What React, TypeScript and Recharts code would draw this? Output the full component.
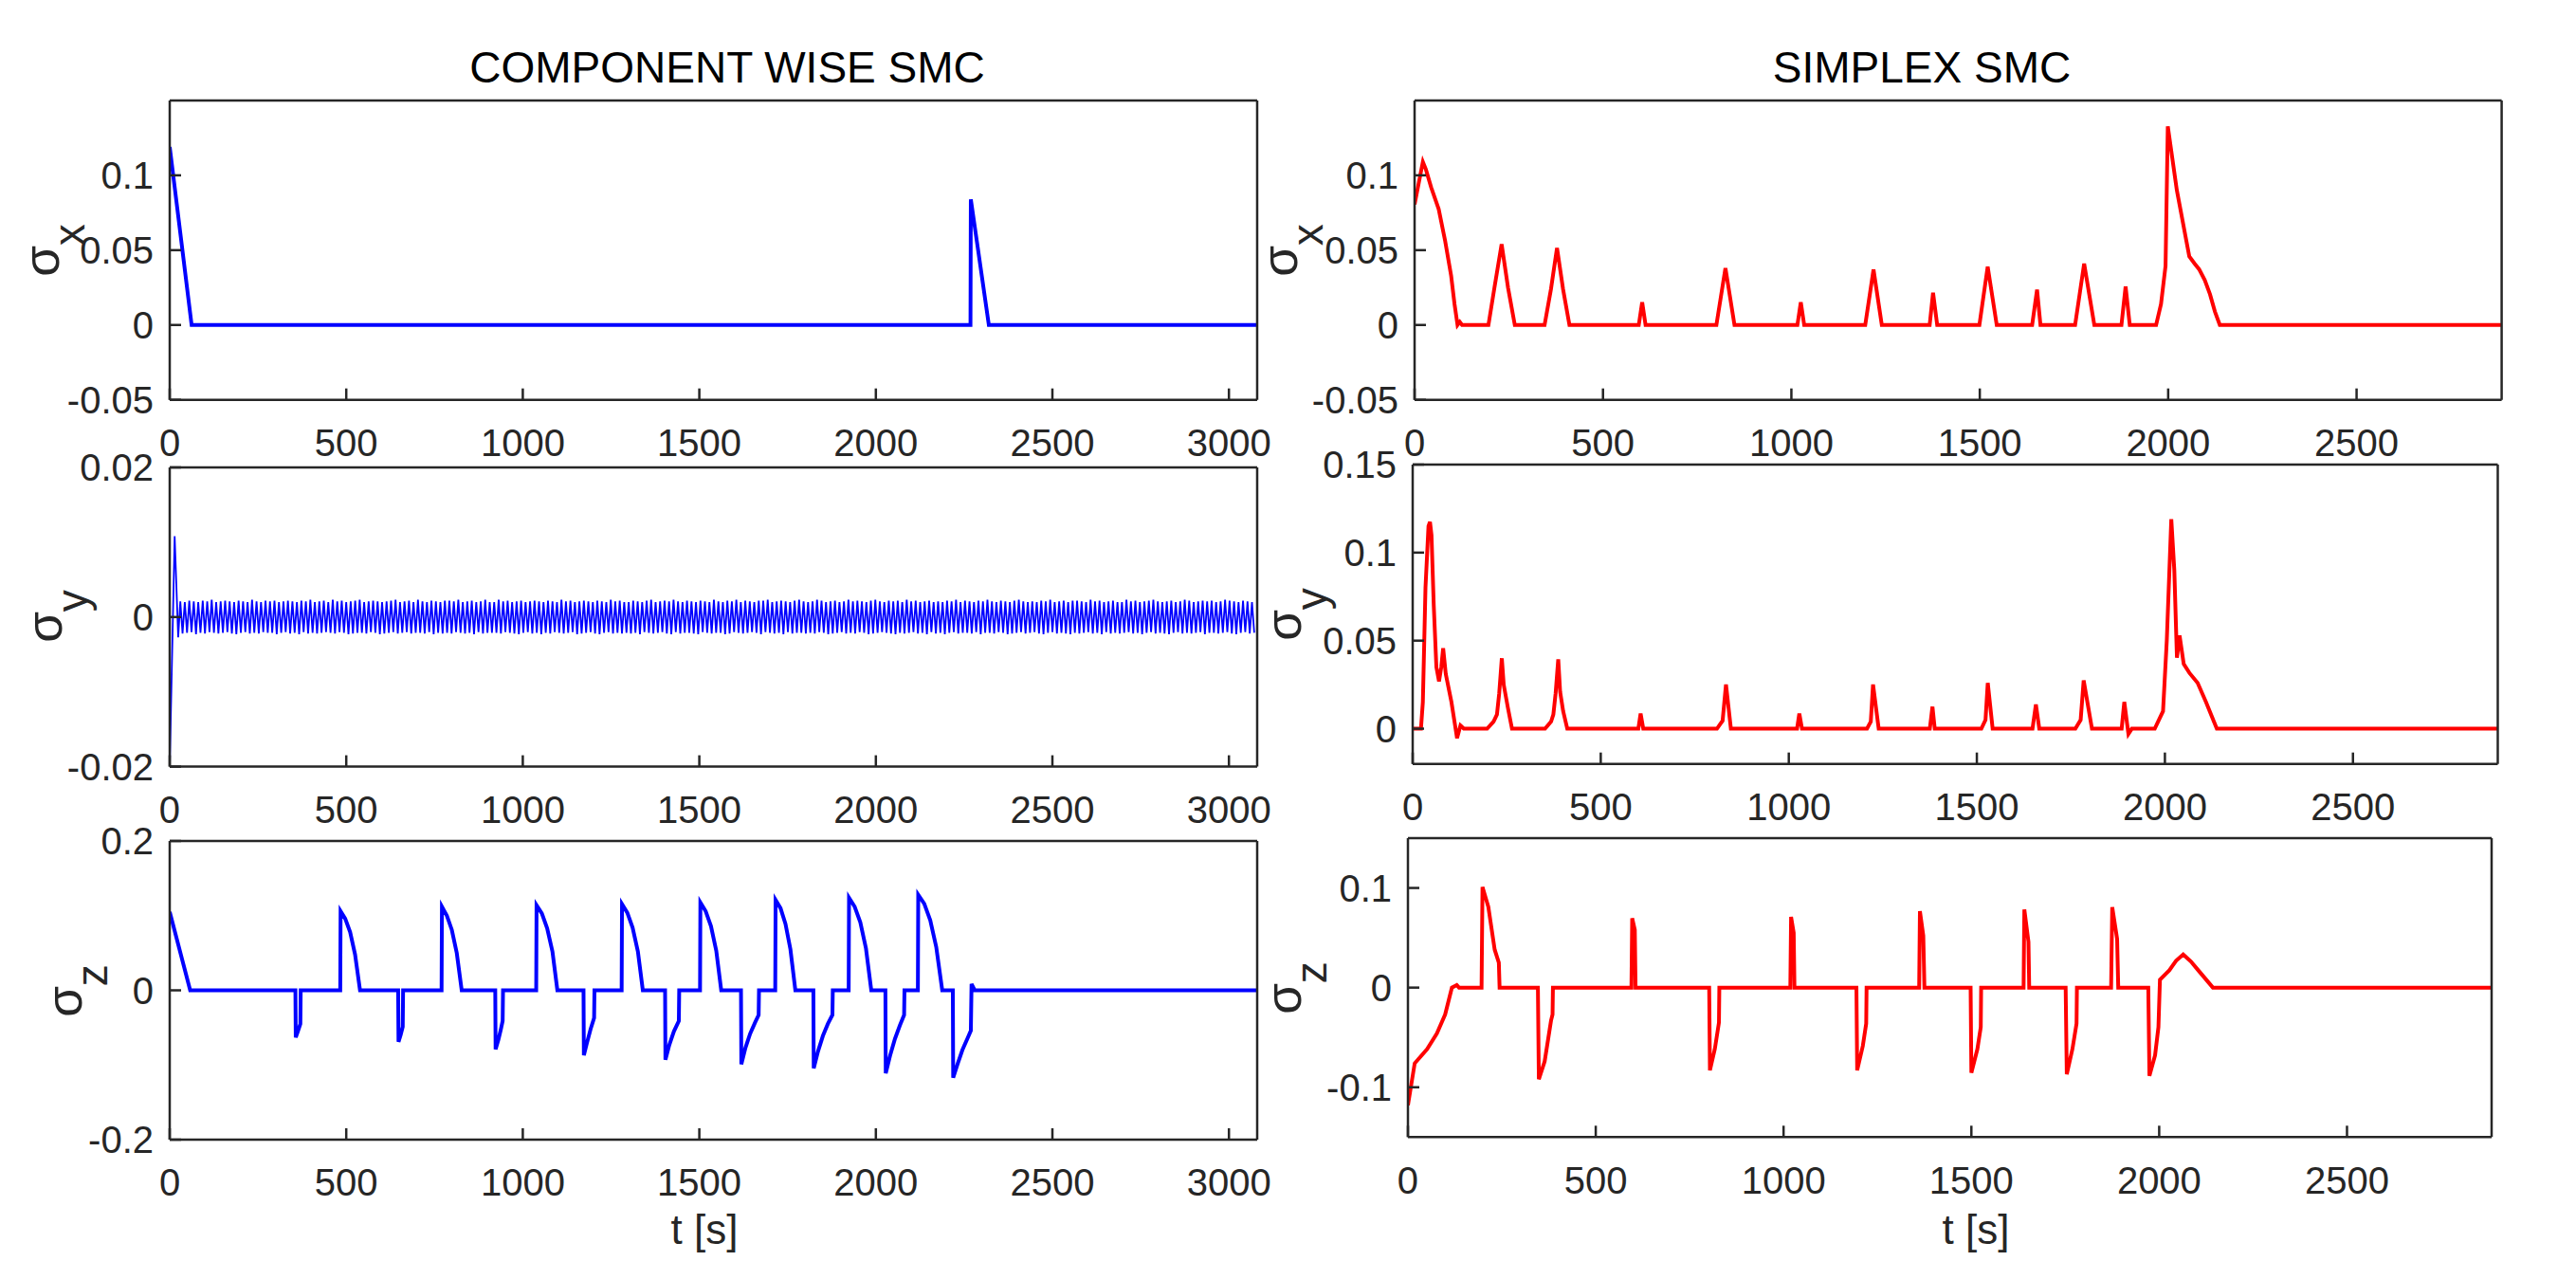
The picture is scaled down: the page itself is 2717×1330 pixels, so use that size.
import React from "react";
import { LineChart, Line, XAxis, YAxis } from "recharts";

const FONT = '"Liberation Sans", Arial, Helvetica, sans-serif';
const AXIS = "#262626";
const BLUE = "#0000ff";
const RED = "#ff0000";

// time axes
const CW_T_MAX = 3080;
const SX_T_MAX = 2885;
const CW_T_TICKS = [0, 500, 1000, 1500, 2000, 2500, 3000];
const SX_T_TICKS = [0, 500, 1000, 1500, 2000, 2500];

// y axes
const CW_X_DOMAIN = [-0.05, 0.15];
const CW_X_TICKS = [-0.05, 0, 0.05, 0.1];
const CW_Y_DOMAIN = [-0.02, 0.02];
const CW_Y_TICKS = [-0.02, 0, 0.02];
const CW_Z_DOMAIN = [-0.2, 0.2];
const CW_Z_TICKS = [-0.2, 0, 0.2];
const SX_X_DOMAIN = [-0.05, 0.15];
const SX_X_TICKS = [-0.05, 0, 0.05, 0.1];
const SX_Y_DOMAIN = [-0.02, 0.15];
const SX_Y_TICKS = [0, 0.05, 0.1, 0.15];
const SX_Z_DOMAIN = [-0.15, 0.15];
const SX_Z_TICKS = [-0.1, 0, 0.1];

// component wise SMC, sigma x  [t, value]
const CW_SX: [number, number][] = [
  [0, 0.119], [62, 0], [2268, 0], [2269, 0.084], [2320, 0], [3080, 0],
];

// component wise SMC, sigma y: start transient, then chattering
const CW_SY_START: [number, number][] = [
  [0, -0.02], [14, 0.0108], [24, -0.0027],
];
const CHATTER_T0 = 30;
const CHATTER_DT = 6.35;
const CHATTER_UNIT = 1e-4;
const CW_SY_CHATTER = [
  21, -22, 20, -21, 22, -20, 21, -23, 20, -21, 22, -22, 21, -20, 23, -21, 20, -22, 21, -21,
  22, -20, 21, -22, 20, -23, 22, -21, 21, -20, 20, -22, 23, -21, 21, -22, 20, -20, 22, -21,
  21, -21, 22, -23, 20, -21, 21, -20, 22, -22, 21, -21, 20, -23, 22, -20, 21, -22, 23, -21,
  20, -22, 21, -21, 22, -20, 20, -21, 23, -22, 21, -20, 22, -21, 20, -23, 21, -22, 22, -21,
  23, -21, 20, -22, 21, -20, 22, -21, 21, -23, 20, -22, 21, -21, 22, -20, 23, -22, 20, -21,
  21, -20, 22, -22, 20, -21, 23, -21, 21, -22, 20, -20, 22, -23, 21, -21, 20, -22, 22, -21,
  22, -22, 21, -20, 23, -21, 20, -22, 21, -21, 22, -23, 20, -20, 21, -22, 23, -21, 20, -21,
  20, -21, 23, -22, 21, -20, 22, -21, 20, -22, 21, -23, 22, -21, 20, -20, 21, -22, 22, -21,
  21, -23, 20, -21, 22, -22, 21, -20, 20, -21, 23, -22, 21, -21, 22, -20, 20, -23, 21, -22,
  22, -21, 21, -20, 20, -22, 22, -23, 21, -21, 20, -20, 23, -22, 21, -21, 22, -22, 20, -21,
  20, -22, 22, -21, 21, -23, 20, -20, 22, -21, 23, -22, 20, -21, 21, -20, 22, -22, 21, -23,
  23, -20, 21, -22, 20, -21, 22, -21, 21, -22, 20, -23, 22, -20, 21, -21, 20, -22, 23, -21,
  21, -21, 20, -23, 22, -22, 21, -20, 23, -21, 20, -22, 22, -21, 21, -20, 20, -21, 22, -23,
  22, -20, 23, -21, 20, -22, 21, -21, 22, -23, 21, -20, 20, -22, 22, -21, 23, -21, 21, -22,
  20, -21, 21, -22, 23, -20, 22, -21, 20, -23, 21, -22, 22, -21, 20, -20, 21, -22, 23, -21,
  21, -22, 22, -20, 21, -21, 20, -23, 22, -22, 23, -21, 21, -20, 20, -21, 22, -22, 21, -23,
  22, -21, 20, -22, 23, -21, 21, -20, 22, -22, 20, -21, 21, -23, 22, -20, 20, -22, 21, -21,
  20, -23, 22, -21, 21, -20, 23, -22, 20, -21, 22, -21, 21, -22, 20, -20, 22, -23, 21, -21,
  23, -21, 21, -22, 20, -20, 22, -21, 21, -23, 20, -22, 22, -21, 23, -20, 21, -22, 20, -21,
  21, -20, 20, -22, 22, -23, 21, -21, 23, -20, 20, -22, 21, -21, 22, -22, 20, -23, 22, -21,
  22, -22, 21, -21, 20, -20, 23, -22, 21, -21, 22, -23, 20, -20, 21, -22, 22, -21, 20, -22,
  20, -21, 23, -20, 21, -22, 22, -21, 20, -23, 21, -21, 22, -20, 23, -22, 21, -21, 20, -22,
  21, -23, 22, -21, 20, -20, 21, -22, 23, -21, 22, -22, 20, -21, 21, -20, 22, -23, 21, -21,
  22, -21, 20, -22, 21, -21, 23, -20, 22, -22, 21, -23, 20, -21, 22, -20, 21, -22, 20, -21,
];

// component wise SMC, sigma z
const CW_SZ: [number, number][] = [
  [0, 0.105], [58, 0], [356, 0], [357, -0.063], [363, -0.055], [370, -0.045], [371, 0],
  [483, 0], [484, 0.106], [497, 0.096], [511, 0.078], [525, 0.048], [539, 0],
  [647, 0], [648, -0.069], [654, -0.06], [660, -0.049], [661, 0],
  [770, 0], [771, 0.112], [785, 0.1], [799, 0.081], [813, 0.05], [827, 0],
  [922, 0], [923, -0.079], [931, -0.066], [938, -0.052], [943, -0.041], [944, 0],
  [1038, 0], [1039, 0.114], [1054, 0.103], [1069, 0.083], [1084, 0.052], [1098, 0],
  [1172, 0], [1173, -0.087], [1182, -0.07], [1192, -0.052], [1202, -0.037], [1203, 0],
  [1280, 0], [1281, 0.1155], [1296, 0.104], [1311, 0.084], [1326, 0.052], [1340, 0],
  [1403, 0], [1404, -0.093], [1415, -0.073], [1428, -0.055], [1442, -0.041], [1443, 0],
  [1502, 0], [1503, 0.1176], [1518, 0.106], [1533, 0.086], [1548, 0.053], [1562, 0],
  [1618, 0], [1619, -0.099], [1630, -0.078], [1644, -0.058], [1658, -0.043], [1668, -0.033], [1669, 0],
  [1715, 0], [1716, 0.121], [1730, 0.11], [1744, 0.089], [1758, 0.055], [1772, 0],
  [1823, 0], [1824, -0.1045], [1836, -0.082], [1850, -0.061], [1864, -0.045], [1877, -0.033], [1878, 0],
  [1923, 0], [1924, 0.124], [1940, 0.112], [1956, 0.091], [1972, 0.056], [1987, 0],
  [2027, 0], [2028, -0.111], [2040, -0.088], [2054, -0.065], [2068, -0.047], [2080, -0.033], [2081, 0],
  [2119, 0], [2120, 0.128], [2137, 0.116], [2154, 0.094], [2171, 0.058], [2188, 0],
  [2218, 0], [2219, -0.117], [2232, -0.098], [2245, -0.08], [2258, -0.066], [2269, -0.054],
  [2271, 0.0085], [2280, 0], [3080, 0],
];

// simplex SMC, sigma x
const SX_SX: [number, number][] = [
  [0, 0.0806], [22, 0.109], [30, 0.104], [44, 0.092], [64, 0.0774], [81, 0.0563], [97, 0.033],
  [106, 0.014], [114, 0], [120, 0.002], [126, 0],
  [196, 0], [212, 0.025], [231, 0.054], [248, 0.025], [266, 0],
  [345, 0], [362, 0.024], [378, 0.0515], [394, 0.024], [411, 0],
  [595, 0], [604, 0.0152], [613, 0],
  [801, 0], [825, 0.038], [849, 0],
  [1016, 0], [1025, 0.0152], [1034, 0],
  [1196, 0], [1218, 0.037], [1240, 0],
  [1367, 0], [1376, 0.0215], [1387, 0],
  [1499, 0], [1521, 0.039], [1545, 0],
  [1639, 0], [1652, 0.0236], [1661, 0],
  [1753, 0], [1777, 0.041], [1804, 0],
  [1876, 0], [1887, 0.0257], [1898, 0],
  [1968, 0], [1981, 0.014], [1993, 0.0395], [1999, 0.1327], [2023, 0.09], [2056, 0.0458],
  [2070, 0.041], [2082, 0.0373], [2097, 0.03], [2111, 0.0205], [2124, 0.009], [2137, 0],
  [2885, 0],
];

// simplex SMC, sigma y
const SX_SY: [number, number][] = [
  [0, 0], [22, 0], [27, 0.015], [34, 0.08], [42, 0.115], [46, 0.1174], [50, 0.11], [56, 0.07],
  [63, 0.035], [70, 0.0269], [76, 0.035], [81, 0.0457], [88, 0.031], [103, 0.0152],
  [118, -0.0054], [127, 0.0018], [136, 0],
  [198, 0], [215, 0.004], [224, 0.008], [230, 0.02], [237, 0.04], [242, 0.025], [253, 0.012], [264, 0],
  [352, 0], [368, 0.004], [374, 0.008], [380, 0.02], [387, 0.0394], [392, 0.021], [400, 0.01], [411, 0],
  [600, 0], [606, 0.0086], [613, 0],
  [809, 0], [824, 0.0045], [833, 0.0251], [846, 0],
  [1022, 0], [1028, 0.0086], [1035, 0],
  [1208, 0], [1218, 0.004], [1224, 0.0251], [1239, 0],
  [1375, 0], [1382, 0.0125], [1388, 0],
  [1512, 0], [1523, 0.005], [1529, 0.026], [1542, 0],
  [1648, 0], [1657, 0.0138], [1666, 0],
  [1762, 0], [1776, 0.005], [1784, 0.0274], [1806, 0],
  [1885, 0], [1892, 0.0152], [1903, -0.003], [1912, 0],
  [1973, 0], [1995, 0.0099], [2005, 0.05], [2017, 0.119], [2025, 0.09], [2032, 0.0403],
  [2039, 0.0529], [2050, 0.0367], [2065, 0.0317], [2087, 0.026], [2109, 0.0152], [2138, 0],
  [2884, 0],
];

// simplex SMC, sigma z
const SX_SZ: [number, number][] = [
  [0, -0.118], [18, -0.076], [51, -0.0617], [77, -0.046], [99, -0.027], [117, 0], [130, 0.0025], [136, 0],
  [196, 0], [198.5, 0.101], [214, 0.081], [231, 0.038], [242, 0.025], [244, 0],
  [346, 0], [348.5, -0.092], [352, -0.088], [364, -0.074], [381, -0.033], [385, -0.027], [386, 0],
  [595, 0], [597, 0.0696], [604, 0.058], [606, 0],
  [802, 0], [804, -0.083], [817, -0.0617], [828, -0.035], [829, 0],
  [1018, 0], [1020, 0.071], [1027, 0.055], [1029, 0],
  [1194, 0], [1196, -0.083], [1211, -0.0585], [1220, -0.036], [1221, 0],
  [1361, 0], [1363, 0.0766], [1372, 0.052], [1375, 0],
  [1498, 0], [1500, -0.0855], [1516, -0.0617], [1525, -0.0396], [1526, 0],
  [1639, 0], [1641, 0.0785], [1652, 0.046], [1654, 0],
  [1751, 0], [1754, -0.087], [1769, -0.0617], [1780, -0.036], [1781, 0],
  [1872, 0], [1875, 0.0807], [1888, 0.049], [1891, 0],
  [1971, 0], [1974, -0.0886], [1989, -0.068], [1998, -0.0396], [2002, 0.0079], [2027, 0.0174],
  [2045, 0.027], [2064, 0.0332], [2085, 0.026], [2104, 0.0174], [2143, 0],
  [2885, 0],
];

type Pt = { t: number; v: number };
const toPts = (rows: [number, number][]): Pt[] => rows.map(([t, v]) => ({ t, v }));

const cwSyData: Pt[] = [
  ...toPts(CW_SY_START),
  ...CW_SY_CHATTER.map((a, i) => ({ t: CHATTER_T0 + i * CHATTER_DT, v: a * CHATTER_UNIT })),
];

type Box = { x0: number; y0: number; x1: number; y1: number };

const PAD_L = 200;
const PAD_T = 32;
const PAD_R = 40;
const AXIS_H = 90;

interface PanelProps {
  box: Box;
  data: Pt[];
  color: string;
  lineWidth: number;
  tMax: number;
  tTicks: number[];
  yDomain: number[];
  yTicks: number[];
}

function Panel({ box, data, color, lineWidth, tMax, tTicks, yDomain, yTicks }: PanelProps) {
  const w = box.x1 - box.x0 + PAD_L + PAD_R;
  const h = box.y1 - box.y0 + PAD_T + AXIS_H;
  const tickFont = { fill: AXIS, fontSize: 40, fontFamily: FONT };
  const stroke = { stroke: AXIS, strokeWidth: 2.5 };

  // the top and right axes only carry the inner ticks of the box; an axis of
  // zero size is not drawn, so they get 1px and the margins give that back
  return (
    <div style={{ position: "absolute", left: box.x0 - PAD_L, top: box.y0 - PAD_T }}>
      <LineChart width={w} height={h} margin={{ top: PAD_T - 1, right: PAD_R - 1, bottom: 0, left: 0 }}>
        <XAxis
          dataKey="t"
          type="number"
          domain={[0, tMax]}
          ticks={tTicks}
          interval={0}
          allowDataOverflow
          height={AXIS_H}
          tickSize={-12}
          tickMargin={43}
          tick={tickFont}
          tickLine={stroke}
          axisLine={stroke}
        />
        <XAxis
          xAxisId="top"
          orientation="top"
          type="number"
          domain={[0, tMax]}
          ticks={tTicks}
          interval={0}
          allowDataOverflow
          height={1}
          tickSize={-12}
          tick={false}
          tickLine={stroke}
          axisLine={stroke}
        />
        <YAxis
          type="number"
          domain={yDomain}
          ticks={yTicks}
          interval={0}
          allowDataOverflow
          width={PAD_L}
          tickSize={-12}
          tickMargin={29}
          tick={tickFont}
          tickLine={stroke}
          axisLine={stroke}
        />
        <YAxis
          yAxisId="right"
          orientation="right"
          type="number"
          domain={yDomain}
          ticks={yTicks}
          interval={0}
          allowDataOverflow
          width={1}
          tickSize={-12}
          tick={false}
          tickLine={stroke}
          axisLine={stroke}
        />
        <Line
          data={data}
          dataKey="v"
          type="linear"
          stroke={color}
          strokeWidth={lineWidth}
          dot={false}
          activeDot={false}
          isAnimationActive={false}
        />
      </LineChart>
    </div>
  );
}

function SigmaLabel({ x, y, sub }: { x: number; y: number; sub: string }) {
  return (
    <text
      x={x}
      y={y}
      transform={`rotate(-90 ${x} ${y})`}
      textAnchor="middle"
      fontFamily={FONT}
      fontSize={53}
      fill={AXIS}
    >
      σ
      <tspan fontSize={46} dy={27}>
        {sub}
      </tspan>
    </text>
  );
}

export default function App() {
  return (
    <div
      style={{
        position: "absolute",
        left: 0,
        top: 0,
        width: 2717,
        height: 1330,
        background: "#fff",
        overflow: "hidden",
      }}
    >
      <Panel box={{ x0: 179, y0: 106, x1: 1326, y1: 421.7 }} data={toPts(CW_SX)} color={BLUE} lineWidth={4}
        tMax={CW_T_MAX} tTicks={CW_T_TICKS} yDomain={CW_X_DOMAIN} yTicks={CW_X_TICKS} />
      <Panel box={{ x0: 179, y0: 492.7, x1: 1326, y1: 808.3 }} data={cwSyData} color={BLUE} lineWidth={1.8}
        tMax={CW_T_MAX} tTicks={CW_T_TICKS} yDomain={CW_Y_DOMAIN} yTicks={CW_Y_TICKS} />
      <Panel box={{ x0: 179, y0: 886.7, x1: 1326, y1: 1201.7 }} data={toPts(CW_SZ)} color={BLUE} lineWidth={4}
        tMax={CW_T_MAX} tTicks={CW_T_TICKS} yDomain={CW_Z_DOMAIN} yTicks={CW_Z_TICKS} />
      <Panel box={{ x0: 1492, y0: 106, x1: 2638.6, y1: 421.7 }} data={toPts(SX_SX)} color={RED} lineWidth={4}
        tMax={SX_T_MAX} tTicks={SX_T_TICKS} yDomain={SX_X_DOMAIN} yTicks={SX_X_TICKS} />
      <Panel box={{ x0: 1489.5, y0: 490, x1: 2634, y1: 805.7 }} data={toPts(SX_SY)} color={RED} lineWidth={4}
        tMax={SX_T_MAX} tTicks={SX_T_TICKS} yDomain={SX_Y_DOMAIN} yTicks={SX_Y_TICKS} />
      <Panel box={{ x0: 1485, y0: 884, x1: 2628, y1: 1199.3 }} data={toPts(SX_SZ)} color={RED} lineWidth={4}
        tMax={SX_T_MAX} tTicks={SX_T_TICKS} yDomain={SX_Z_DOMAIN} yTicks={SX_Z_TICKS} />

      <svg
        width={2717}
        height={1330}
        style={{ position: "absolute", left: 0, top: 0, pointerEvents: "none" }}
      >
        <text x={767} y={87} textAnchor="middle" fontFamily={FONT} fontSize={46} fill="#000">
          COMPONENT WISE SMC
        </text>
        <text x={2027} y={87} textAnchor="middle" fontFamily={FONT} fontSize={46} fill="#000">
          SIMPLEX SMC
        </text>
        <text x={743} y={1312} textAnchor="middle" fontFamily={FONT} fontSize={44} fill={AXIS}>
          t [s]
        </text>
        <text x={2084} y={1312} textAnchor="middle" fontFamily={FONT} fontSize={44} fill={AXIS}>
          t [s]
        </text>
        <SigmaLabel x={62} y={264} sub="x" />
        <SigmaLabel x={65} y={650} sub="y" />
        <SigmaLabel x={86} y={1045} sub="z" />
        <SigmaLabel x={1368} y={264} sub="x" />
        <SigmaLabel x={1372} y={648} sub="y" />
        <SigmaLabel x={1372} y={1042} sub="z" />
      </svg>
    </div>
  );
}
